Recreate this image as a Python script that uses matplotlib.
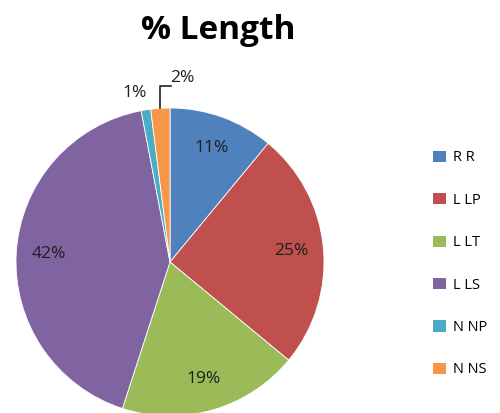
import numpy as np
import matplotlib
matplotlib.use("Agg")
import matplotlib.pyplot as plt

plt.rcParams['font.family'] = ['Open Sans', 'DejaVu Sans']

categories = ["R R", "L LP", "L LT", "L LS", "N NP", "N NS"]
shares = [11, 25, 19, 42, 1, 2]
colors = ["#4F81BD", "#C0504D", "#9BBB59", "#8064A2", "#4BACC6", "#F79646"]

fig = plt.figure(figsize=(5.0, 4.13), dpi=100)
fig.patch.set_facecolor("white")

ax = fig.add_axes([16 / 500, -3 / 413, 308 / 500, 308 / 413])
wedges, _ = ax.pie(shares, colors=colors, startangle=90, counterclock=False,
                   radius=1.0, wedgeprops=dict(edgecolor="white", linewidth=0.6))
ax.set_xlim(-1, 1)
ax.set_ylim(-1, 1)
ax.set_aspect("equal")
ax.axis("off")

label_color = "#1e1e1e"
label_size = 12.5

# percentage labels
for w, v in zip(wedges, shares):
    mid = np.deg2rad((w.theta1 + w.theta2) / 2)
    dx, dy = np.cos(mid), np.sin(mid)
    txt = f"{v}%"
    if v >= 5:
        ax.text(0.79 * dx, 0.79 * dy, txt, ha="center", va="center",
                fontsize=label_size, color=label_color)
    elif v == 1:
        ax.text(1.11 * dx + 0.02, 1.11 * dy, txt, ha="right", va="center",
                fontsize=label_size, color=label_color)
    else:
        x0, y0 = dx, dy
        ytop = 1.14
        ax.plot([x0, x0, x0 + 0.07], [y0, ytop, ytop], color="#222222",
                lw=1.2, clip_on=False)
        ax.text(x0 + 0.065, ytop + 0.055, txt, ha="left", va="center",
                fontsize=label_size, color=label_color)

fig.text(0.436, 0.925, "% Length", ha="center", va="center",
         fontsize=24, fontweight="bold", color="black")

# legend
handles = [plt.Rectangle((0, 0), 1, 1, facecolor=c, edgecolor="none") for c in colors]
fig.legend(handles, categories, loc="upper left", bbox_to_anchor=(0.855, 0.65),
           frameon=False, fontsize=10.5, handlelength=0.9, handleheight=0.8,
           handletextpad=0.45, labelspacing=1.88, borderaxespad=0)

fig.savefig("out.png", dpi=100, facecolor="white")
